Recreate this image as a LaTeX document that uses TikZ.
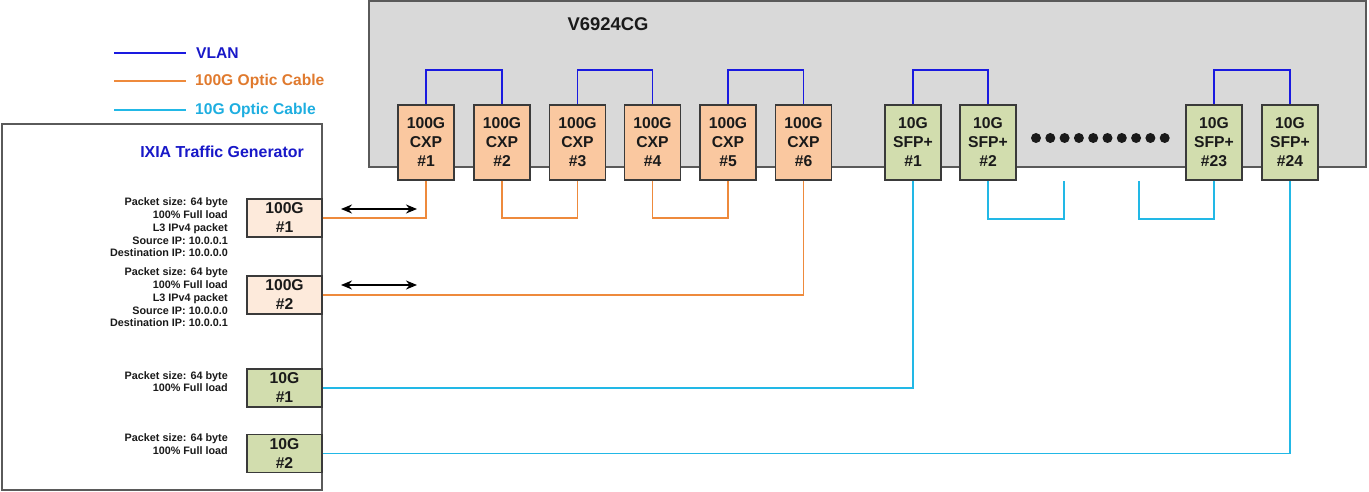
\documentclass[tikz,border=0pt]{standalone}
\usepackage{fontspec}
\setmainfont{Liberation Sans}
\usetikzlibrary{arrows.meta}
\definecolor{vlanblue}{HTML}{1A1AE0}
\definecolor{legblue}{HTML}{1818C8}
\definecolor{orangec}{HTML}{EE8A3C}
\definecolor{orangetxt}{HTML}{E07A2E}
\definecolor{cyanc}{HTML}{22B8E6}
\definecolor{cyantxt}{HTML}{1EAEE0}
\definecolor{swfill}{HTML}{D9D9D9}
\definecolor{swborder}{HTML}{5A5A5A}
\definecolor{cxpfill}{HTML}{FAC8A0}
\definecolor{ixfill}{HTML}{FDEADB}
\definecolor{sfpfill}{HTML}{D2DDAE}
\definecolor{boxborder}{HTML}{3A3A3A}
\definecolor{txt}{HTML}{1A1A1A}
\begin{document}
\begin{tikzpicture}[x=1pt,y=-1pt,
  port/.style={draw=boxborder,line width=1.4pt,minimum width=56pt,minimum height=75pt,
    inner sep=0pt,align=center,text=txt,font=\fontsize{15.7}{19}\selectfont\bfseries},
  cxpport/.style={port,fill=cxpfill},
  sfpport/.style={port,fill=sfpfill},
  ixport/.style={draw=boxborder,line width=1.4pt,minimum width=75pt,minimum height=38pt,
    inner sep=0pt,align=center,text=txt,font=\fontsize{15.7}{19}\selectfont\bfseries},
  info/.style={anchor=east,align=right,inner sep=0pt,text=txt,
    font=\fontsize{10.8}{12.7}\selectfont\bfseries},
  vlan/.style={draw=vlanblue,line width=1.7pt},
  opt100/.style={draw=orangec,line width=1.7pt},
  opt10/.style={draw=cyanc,line width=1.7pt},
  legtxt/.style={anchor=west,inner sep=0pt,font=\fontsize{15.6}{18}\selectfont\bfseries},
  bidir/.style={line width=1.8pt,{Stealth[length=11pt,width=9pt]}-{Stealth[length=11pt,width=9pt]}}
]
\useasboundingbox (0,0) rectangle (1369,492);

% legend
\coordinate (lv1) at (114,53); \coordinate (lv2) at (186,53);
\coordinate (lo1) at (114,81); \coordinate (lo2) at (186,81);
\coordinate (lc1) at (114,110); \coordinate (lc2) at (186,110);
\draw[vlan] (lv1) -- (lv2);
\draw[opt100] (lo1) -- (lo2);
\draw[opt10] (lc1) -- (lc2);
\node[legtxt,text=legblue] (lgv) at (196,53) {VLAN};
\node[legtxt,text=orangetxt] (lgo) at (195,81) {100G Optic Cable};
\node[legtxt,text=cyantxt] (lgc) at (195,110) {10G Optic Cable};

% switch
\node[draw=swborder,fill=swfill,line width=1.6pt,minimum width=997pt,minimum height=166pt,inner sep=0pt]
  (sw) at (867.5,84) {};
\node[inner sep=0pt,text=txt,font=\fontsize{18.4}{22}\selectfont\bfseries] (swlbl) at (608,24) {V6924CG};

% IXIA
\node[draw=swborder,fill=white,line width=1.6pt,minimum width=320pt,minimum height=366pt,inner sep=0pt]
  (ixia) at (162,307) {};
\node[inner sep=0pt,text=legblue,font=\fontsize{15.9}{19}\selectfont\bfseries] (ixlbl) at (222,152) {IXIA Traffic Generator};

% CXP ports
\node[cxpport] (cxp1) at (426,142.5) {100G\\CXP\\\#1};
\node[cxpport] (cxp2) at (502,142.5) {100G\\CXP\\\#2};
\node[cxpport] (cxp3) at (577.5,142.5) {100G\\CXP\\\#3};
\node[cxpport] (cxp4) at (652.5,142.5) {100G\\CXP\\\#4};
\node[cxpport] (cxp5) at (728,142.5) {100G\\CXP\\\#5};
\node[cxpport] (cxp6) at (803.5,142.5) {100G\\CXP\\\#6};

% SFP ports
\node[sfpport] (sfp1) at (913,142.5) {10G\\SFP+\\\#1};
\node[sfpport] (sfp2) at (988,142.5) {10G\\SFP+\\\#2};
\node[sfpport] (sfp23) at (1214,142.5) {10G\\SFP+\\\#23};
\node[sfpport] (sfp24) at (1290,142.5) {10G\\SFP+\\\#24};

% dots
\foreach \i in {0,...,9} \fill[txt] (1036+14.3*\i,138) circle (5pt);

% IXIA ports
\node[ixport,fill=ixfill] (ix1) at (284.5,218) {100G\\\#1};
\node[ixport,fill=ixfill] (ix2) at (284.5,295) {100G\\\#2};
\node[ixport,fill=sfpfill] (tx1) at (284.5,388) {10G\\\#1};
\node[ixport,fill=sfpfill] (tx2) at (284.5,453.5) {10G\\\#2};

% info texts
\node[info] (inf1) at (228,227.5) {Packet size: 64 byte\\100\% Full load\\L3 IPv4 packet\\Source IP: 10.0.0.1\\Destination IP: 10.0.0.0};
\node[info] (inf2) at (228,297.5) {Packet size: 64 byte\\100\% Full load\\L3 IPv4 packet\\Source IP: 10.0.0.0\\Destination IP: 10.0.0.1};
\node[info] (inf3) at (228,381.5) {Packet size: 64 byte\\100\% Full load};
\node[info] (inf4) at (228,444) {Packet size: 64 byte\\100\% Full load};

% VLAN brackets
\draw[vlan] (cxp1.north) -- ++(0,-34) -| (cxp2.north);
\draw[vlan] (cxp3.north) -- ++(0,-34) -| (cxp4.north);
\draw[vlan] (cxp5.north) -- ++(0,-34) -| (cxp6.north);
\draw[vlan] (sfp1.north) -- ++(0,-34) -| (sfp2.north);
\draw[vlan] (sfp23.north) -- ++(0,-34) -| (sfp24.north);

% 100G cables
\draw[opt100] (ix1.east) -| (cxp1.south);
\draw[opt100] (ix2.east) -| (cxp6.south);
\draw[opt100] (cxp2.south) -- ++(0,37) -| (cxp3.south);
\draw[opt100] (cxp4.south) -- ++(0,37) -| (cxp5.south);

% 10G cables
\draw[opt10] (tx1.east) -| (sfp1.south);
\draw[opt10] (tx2.east) -| (sfp24.south);
\coordinate (f2) at (1064,181);
\coordinate (f23) at (1139,181);
\draw[opt10] (sfp2.south) -- ++(0,38) -| (f2);
\draw[opt10] (sfp23.south) -- ++(0,38) -| (f23);

% arrows
\coordinate (a1l) at (341,209); \coordinate (a1r) at (417,209);
\coordinate (a2l) at (341,285); \coordinate (a2r) at (417,285);
\draw[bidir] (a1l) -- (a1r);
\draw[bidir] (a2l) -- (a2r);
\end{tikzpicture}
\end{document}
